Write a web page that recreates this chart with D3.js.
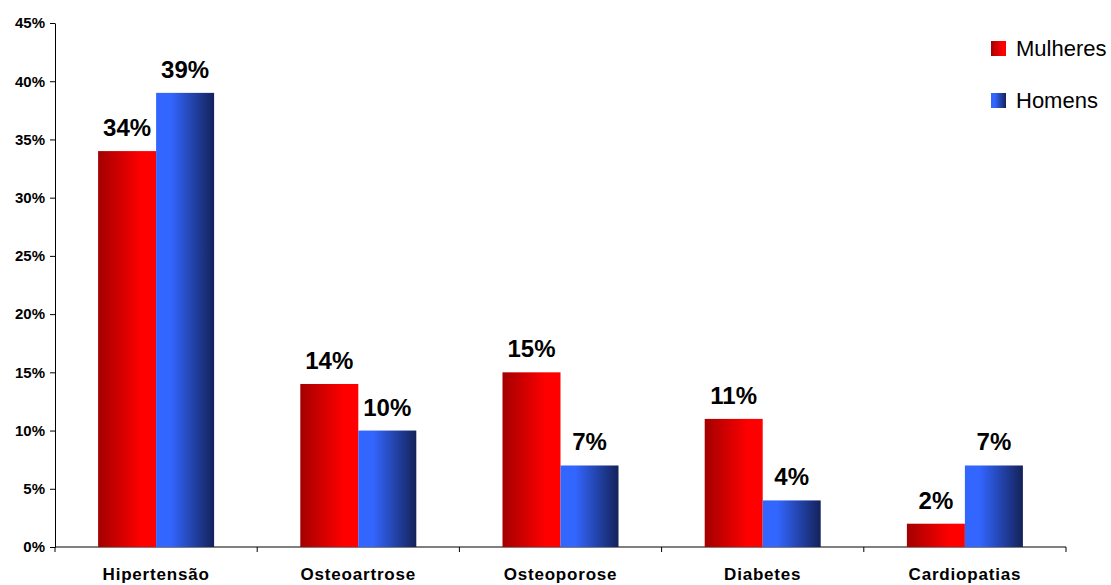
<!DOCTYPE html>
<html>
<head>
<meta charset="utf-8">
<script src="https://cdn.jsdelivr.net/npm/d3@7"></script>
<style>
  body { margin: 0; background: #fff; }
  text { font-family: "Liberation Sans", Arial, sans-serif; }
</style>
</head>
<body>
<div id="chartContainer"></div>
<script>
// data
const categories = ["Hipertensão", "Osteoartrose", "Osteoporose", "Diabetes", "Cardiopatias"];
const mulheres = [34, 14, 15, 11, 2];
const homens = [39, 10, 7, 4, 7];
const seriesNames = ["Mulheres", "Homens"];
const yTicks = [0, 5, 10, 15, 20, 25, 30, 35, 40, 45];

const W = 1111, H = 585;
const margin = { top: 23, right: 45, bottom: 38, left: 55 };
const width = W - margin.left - margin.right,
  height = H - margin.top - margin.bottom;

const svg = d3.select("#chartContainer").append("svg")
  .attr("width", W).attr("height", H);

// gradients
const defs = svg.append("defs");
const redGrad = defs.append("linearGradient").attr("id", "gradRed");
redGrad.append("stop").attr("offset", "0%").attr("stop-color", "#a30000");
redGrad.append("stop").attr("offset", "75%").attr("stop-color", "#ff0000");
redGrad.append("stop").attr("offset", "100%").attr("stop-color", "#ff0000");
const blueGrad = defs.append("linearGradient").attr("id", "gradBlue");
blueGrad.append("stop").attr("offset", "0%").attr("stop-color", "#3366ff");
blueGrad.append("stop").attr("offset", "25%").attr("stop-color", "#3366ff");
blueGrad.append("stop").attr("offset", "100%").attr("stop-color", "#14225a");
const fills = ["url(#gradRed)", "url(#gradBlue)"];

const g = svg.append("g").attr("transform", "translate(" + margin.left + "," + margin.top + ")");

const x = d3.scaleBand().domain(categories).range([0, width]);
const barW = 58;
const y = d3.scaleLinear().domain([0, 45]).range([height, 0]);

// y axis
const yAxis = g.append("g")
  .call(d3.axisLeft(y).tickValues(yTicks).tickSize(5).tickSizeOuter(0).tickFormat((d) => d + "%"));
yAxis.select(".domain").attr("stroke", "#000");
yAxis.selectAll("line").attr("stroke", "#000");
yAxis.selectAll("text")
  .attr("x", -10)
  .style("font-size", "15px").style("font-weight", "bold").attr("fill", "#000");

// x axis with tick marks at category boundaries
const xAxisG = g.append("g").attr("transform", "translate(0," + height + ")");
xAxisG.append("line").attr("x1", 0).attr("x2", width).attr("stroke", "#000");
const bounds = categories.map((c) => x(c)).concat([width]);
xAxisG.selectAll(".tk").data(bounds).enter().append("line")
  .attr("x1", (d) => d).attr("x2", (d) => d)
  .attr("y1", 0).attr("y2", 5).attr("stroke", "#000");
xAxisG.selectAll(".lbl").data(categories).enter().append("text")
  .attr("x", (d) => x(d) + x.bandwidth() / 2)
  .attr("y", 33)
  .attr("text-anchor", "middle")
  .style("font-size", "17px").style("font-weight", "bold").style("letter-spacing", "0.8px")
  .text((d) => d);

// bars
const series = [mulheres, homens];
series.forEach((vals, si) => {
  const grp = g.append("g");
  grp.selectAll("rect").data(vals).enter().append("rect")
    .attr("x", (d, i) => x(categories[i]) + x.bandwidth() / 2 - barW + si * barW)
    .attr("y", (d) => y(d))
    .attr("width", barW)
    .attr("height", (d) => height - y(d))
    .attr("fill", fills[si]);
  grp.selectAll("text").data(vals).enter().append("text")
    .attr("x", (d, i) => x(categories[i]) + x.bandwidth() / 2 - barW / 2 + si * barW)
    .attr("y", (d) => y(d) - 15)
    .attr("text-anchor", "middle")
    .style("font-size", "24px").style("font-weight", "bold")
    .text((d) => d + "%");
});

// legend
const legend = svg.append("g").attr("id", "legend");
seriesNames.forEach((name, i) => {
  legend.append("rect")
    .attr("x", 991).attr("y", 41 + i * 52)
    .attr("width", 15).attr("height", 15)
    .attr("fill", fills[i]);
  legend.append("text")
    .attr("x", 1016).attr("y", 56 + i * 52)
    .style("font-size", "22px")
    .text(name);
});
</script>
</body>
</html>
